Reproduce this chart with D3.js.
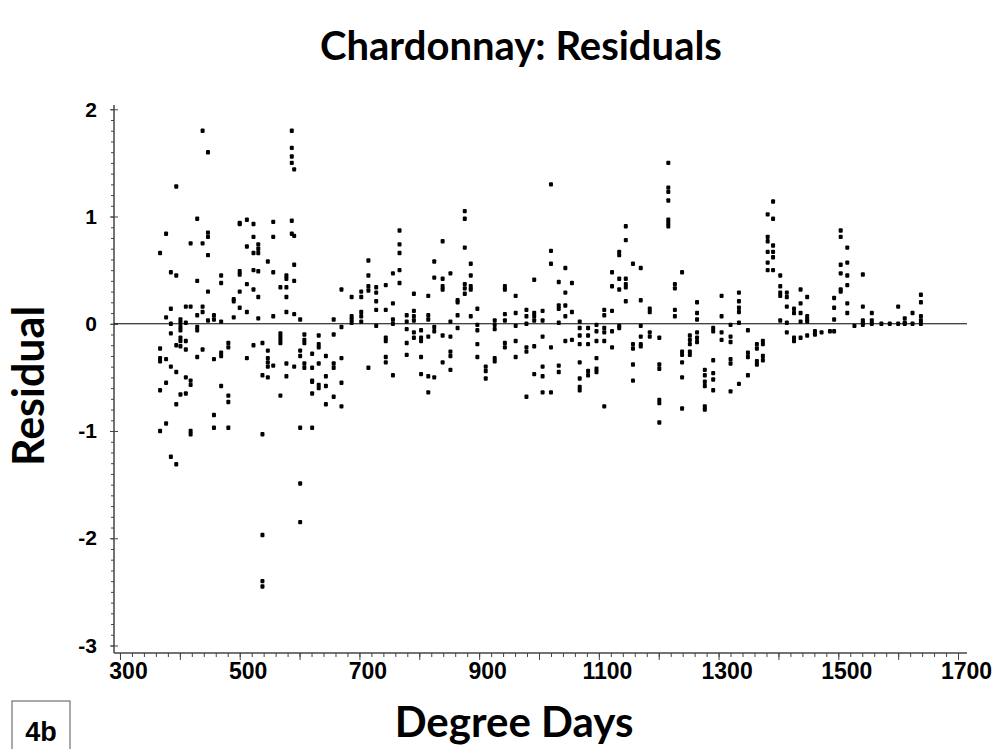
<!DOCTYPE html>
<html>
<head>
<meta charset="utf-8">
<script src="https://cdn.jsdelivr.net/npm/d3@7"></script>
<style>
  body { margin: 0; background: #fff; }
</style>
</head>
<body>
<svg id="chart" width="1007" height="749"></svg>
<script>
// degree days for each sampling column
var dayColumns = [367, 377, 385, 394, 401, 410, 418, 429, 438, 447, 457, 469, 481, 490, 500, 512, 523, 531, 538, 547,
  556, 568, 578, 587, 591, 601, 608, 621, 632, 644, 657, 670, 687, 703, 715, 728, 744, 756, 767, 779,
  791, 803, 815, 825, 839, 852, 864, 876, 886, 897, 911, 926, 943, 961, 979, 992, 1006, 1020, 1033, 1044,
  1055, 1068, 1082, 1096, 1109, 1122, 1134, 1145, 1157, 1170, 1185, 1201, 1216, 1227, 1239, 1252, 1264, 1277, 1291, 1305,
  1320, 1334, 1349, 1364, 1374, 1382, 1391, 1403, 1414, 1426, 1437, 1448, 1461, 1472, 1486, 1493, 1504, 1515, 1527, 1541,
  1556, 1572, 1586, 1600, 1611, 1624, 1638]

var residualColumns = [
  [0.66, -0.23, -0.32, -0.35, -0.62, -1.00],
  [0.84, 0.06, -0.33, -0.55, -0.93],
  [0.48, 0.14, 0.0, -0.09, -0.40, -1.24],
  [1.28, 0.45, -0.20, -0.45, -0.75, -1.31],
  [0.04, 0.01, -0.03, -0.06, -0.13, -0.16, -0.21, -0.66],
  [0.16, 0.01, -0.16, -0.24, -0.50, -0.65],
  [0.75, 0.16, -0.53, -0.57, -1.00, -1.03],
  [0.98, 0.40, 0.08, -0.03, -0.06, -0.31],
  [1.80, 0.75, 0.16, 0.11, -0.24],
  [1.60, 0.85, 0.81, 0.64, 0.30, 0.03],
  [0.08, 0.04, -0.33, -0.85, -0.97],
  [0.45, 0.38, 0.02, -0.27, -0.30, -0.58],
  [-0.18, -0.22, -0.67, -0.73, -0.97],
  [0.23, 0.21, 0.06],
  [0.93, 0.94, 0.49, 0.46, 0.30, 0.15],
  [0.97, 0.72, 0.37, 0.11, -0.32],
  [0.93, 0.81, 0.66, 0.50, 0.32, -0.20],
  [0.74, 0.70, 0.66, 0.49, 0.25, 0.05],
  [-0.18, -0.48, -1.03, -1.97, -2.40, -2.45],
  [0.58, -0.25, -0.32, -0.36, -0.40, -0.50],
  [0.95, 0.81, 0.48, 0.07, -0.39],
  [0.34, -0.09, -0.12, -0.15, -0.18, -0.67],
  [0.45, 0.42, 0.34, 0.25, 0.11, -0.37, -0.49],
  [1.80, 1.64, 1.56, 1.50, 0.96, 0.84],
  [1.44, 0.82, 0.55, 0.40, 0.09, -0.40],
  [0.04, -0.25, -0.30, -0.97, -1.49, -1.85],
  [-0.10, -0.15, -0.18, -0.37, -0.41],
  [-0.28, -0.41, -0.53, -0.54, -0.65, -0.97],
  [-0.11, -0.19, -0.22, -0.37, -0.57, -0.60],
  [-0.30, -0.49, -0.58, -0.75],
  [0.04, -0.10, -0.37, -0.41, -0.68],
  [0.32, -0.03, -0.32, -0.55, -0.77],
  [0.25, 0.07, 0.04, 0.01],
  [0.30, 0.25, 0.11, 0.07, 0.02],
  [0.59, 0.45, 0.35, 0.31, -0.41],
  [0.34, 0.29, 0.21, 0.13, -0.02],
  [0.36, 0.13, -0.13, -0.16, -0.31, -0.36],
  [0.47, 0.19, 0.04, 0.0, -0.48],
  [0.87, 0.74, 0.66, 0.50, 0.38],
  [0.08, 0.02, -0.05, -0.18, -0.29],
  [0.28, 0.12, 0.07, 0.03, -0.08, -0.13],
  [-0.06, -0.13, -0.16, -0.31, -0.47],
  [0.26, 0.08, 0.04, -0.12, -0.49, -0.64],
  [0.58, 0.43, -0.03, -0.07, -0.50],
  [0.77, 0.42, 0.35, 0.32, -0.11, -0.36],
  [0.47, 0.02, -0.12, -0.26, -0.30, -0.43],
  [0.22, 0.20, 0.08, -0.04],
  [1.05, 0.98, 0.71, 0.37, 0.33, 0.28],
  [0.56, 0.45, 0.35, 0.32, 0.07],
  [0.14, -0.01, -0.06, -0.19, -0.31],
  [-0.40, -0.44, -0.51],
  [0.03, -0.01, -0.05, -0.32, -0.35],
  [0.35, 0.32, 0.09, 0.03, -0.18, -0.22],
  [0.26, 0.10, -0.02, -0.16, -0.31],
  [0.13, 0.07, 0.0, -0.22, -0.26, -0.68],
  [0.41, 0.10, 0.07, 0.03, -0.21, -0.47],
  [0.12, 0.03, -0.12, -0.40, -0.49, -0.64],
  [1.30, 0.68, 0.56, -0.22, -0.64],
  [0.39, 0.17, 0.14, 0.01, -0.39, -0.45],
  [0.52, 0.29, 0.17, 0.07, -0.16],
  [0.38, 0.11, -0.15],
  [0.02, -0.04, -0.11, -0.19, -0.36, -0.51, -0.59, -0.62],
  [-0.04, -0.11, -0.19, -0.44, -0.48],
  [-0.01, -0.07, -0.16, -0.32, -0.42, -0.45],
  [0.13, 0.08, -0.04, -0.08, -0.16, -0.77],
  [0.48, 0.35, 0.12, -0.07, -0.22],
  [0.67, 0.64, 0.42, 0.32, -0.02, -0.04],
  [0.91, 0.78, 0.42, 0.37, 0.34, 0.21],
  [0.56, -0.19, -0.23, -0.38, -0.53],
  [0.52, 0.22, -0.02, -0.12, -0.19, -0.21],
  [0.14, 0.11, -0.08, -0.12],
  [-0.13, -0.38, -0.42, -0.71, -0.74, -0.92],
  [1.50, 1.27, 1.23, 1.15, 0.97, 0.94, 0.91],
  [0.37, 0.33, 0.13, 0.07],
  [0.48, -0.26, -0.29, -0.36, -0.50, -0.79],
  [-0.11, -0.15, -0.19, -0.26, -0.29],
  [0.20, 0.10, 0.04, -0.08, -0.13, -0.17],
  [-0.43, -0.48, -0.54, -0.58, -0.77, -0.80],
  [-0.04, -0.07, -0.34, -0.46, -0.52, -0.62],
  [0.26, 0.07, -0.08, -0.15],
  [-0.01, -0.12, -0.17, -0.33, -0.37, -0.63],
  [0.29, 0.21, 0.15, 0.11, 0.01, -0.56],
  [-0.06, -0.27, -0.31, -0.48],
  [-0.19, -0.23, -0.35, -0.38],
  [-0.16, -0.19, -0.30, -0.34],
  [1.02, 0.81, 0.77, 0.67, 0.57, 0.50],
  [1.14, 0.98, 0.73, 0.67, 0.62, 0.50],
  [0.45, 0.35, 0.29, 0.26, 0.03],
  [0.29, 0.25, 0.16, 0.01, -0.08],
  [0.14, 0.10, -0.13, -0.16],
  [0.32, 0.19, 0.10, 0.02, -0.13],
  [0.25, 0.07, 0.04, 0.02, -0.11],
  [-0.07, -0.10],
  [-0.08],
  [-0.07],
  [0.24, 0.15, 0.04, -0.07],
  [0.87, 0.81, 0.55, 0.47, 0.32, 0.30],
  [0.71, 0.57, 0.45, 0.36, 0.19, 0.10],
  [-0.02],
  [0.46, 0.16, 0.03, 0.01, -0.01],
  [0.10, 0.03, 0.0],
  [0.0],
  [0.0],
  [0.16, 0.0],
  [0.05, 0.01, 0.0],
  [0.10, 0.0],
  [0.27, 0.20, 0.07, 0.03, 0.0]
]

var xLabelTicks = [300, 500, 700, 900, 1100, 1300, 1500, 1700]
var yLabelTicks = [-3, -2, -1, 0, 1, 2]

var svg = d3.select("#chart")

var x = d3.scaleLinear().domain([290, 1715]).range([114, 967])
var y = d3.scaleLinear().domain([-3.07, 2.04]).range([653, 105])

// flatten columns into points
var points = []
dayColumns.forEach(function(d, i) {
  residualColumns[i].forEach(function(r) { points.push({ day: d, res: r }) })
})

// title
svg.append("text").attr("x", 521).attr("y", 60).text("Chardonnay: Residuals")
  .style("font-family", "Lato, 'Open Sans', sans-serif").style("font-weight", "bold")
  .style("font-size", "40px").attr("text-anchor", "middle").attr("fill", "#000")

// x axis: minor ticks, then major ticks with labels every 200
svg.append("g").attr("transform", "translate(0,653)")
  .call(d3.axisBottom(x).tickValues(d3.range(300, 1701, 20)).tickSize(4).tickFormat(""))
  .call(function(g) { g.select(".domain").remove() })
  .selectAll("line").attr("stroke", "#444")

var xAxis = svg.append("g").attr("transform", "translate(0,653)")
  .call(d3.axisBottom(x).tickValues(d3.range(300, 1701, 100)).tickSize(7).tickSizeOuter(0).tickPadding(3)
    .tickFormat(function(d) { return xLabelTicks.indexOf(d) >= 0 ? d : "" }))
xAxis.select(".domain").attr("stroke", "#444").attr("stroke-width", 1.5).attr("d", "M114,0H967")
xAxis.selectAll("line").attr("stroke", "#444")
xAxis.selectAll("text").attr("dx", 8)
  .style("font-family", "Arial, 'Liberation Sans', sans-serif").style("font-weight", "bold").style("font-size", "23px")
  .attr("fill", "#000")

// y axis: minor ticks every 0.1, labels at integers
svg.append("g").attr("transform", "translate(114,0)")
  .call(d3.axisLeft(y).tickValues(d3.range(-30, 21, 1).map(function(v) { return v / 10 })).tickSize(3).tickFormat(""))
  .call(function(g) { g.select(".domain").remove() })
  .selectAll("line").attr("stroke", "#444")

var yAxis = svg.append("g").attr("transform", "translate(114,0)")
  .call(d3.axisLeft(y).tickValues(yLabelTicks).tickSize(4).tickSizeOuter(0).tickPadding(13)
    .tickFormat(function(d) { return String(d) }))
yAxis.select(".domain").attr("stroke", "#444").attr("stroke-width", 1.5).attr("d", "M0,105V653")
yAxis.selectAll("line").attr("x2", 4).attr("x1", -4).attr("stroke", "#444")
yAxis.selectAll("text")
  .style("font-family", "Arial, 'Liberation Sans', sans-serif").style("font-weight", "bold").style("font-size", "21px")
  .attr("fill", "#000")

// zero reference line
svg.append("line").attr("x1", 114).attr("x2", 967).attr("y1", y(0)).attr("y2", y(0))
  .attr("stroke", "#000").attr("stroke-width", 1)

// residual points
svg.append("g").selectAll("rect")
  .data(points)
  .enter()
  .append("rect")
  .attr("x", function(d) { return x(d.day) - 2 })
  .attr("y", function(d) { return y(d.res) - 2.2 })
  .attr("width", 4)
  .attr("height", 4.4)
  .attr("rx", 1)
  .attr("fill", "#000")

// axis titles
svg.append("text").attr("x", 514).attr("y", 737).text("Degree Days")
  .style("font-family", "Lato, 'Open Sans', sans-serif").style("font-weight", "bold")
  .style("font-size", "42px").attr("text-anchor", "middle").attr("fill", "#000")

svg.append("text").attr("transform", "translate(44,386) rotate(-90)").text("Residual")
  .style("font-family", "Lato, 'Open Sans', sans-serif").style("font-weight", "bold")
  .style("font-size", "43px").attr("text-anchor", "middle").attr("fill", "#000")

// panel tag
svg.append("rect").attr("x", 12).attr("y", 701).attr("width", 58).attr("height", 60)
  .attr("fill", "none").attr("stroke", "#555").attr("stroke-width", 1)
svg.append("text").attr("x", 41).attr("y", 741).text("4b")
  .style("font-family", "Arial, 'Liberation Sans', sans-serif").style("font-weight", "bold")
  .style("font-size", "27px").attr("text-anchor", "middle").attr("fill", "#000")
</script>
</body>
</html>
